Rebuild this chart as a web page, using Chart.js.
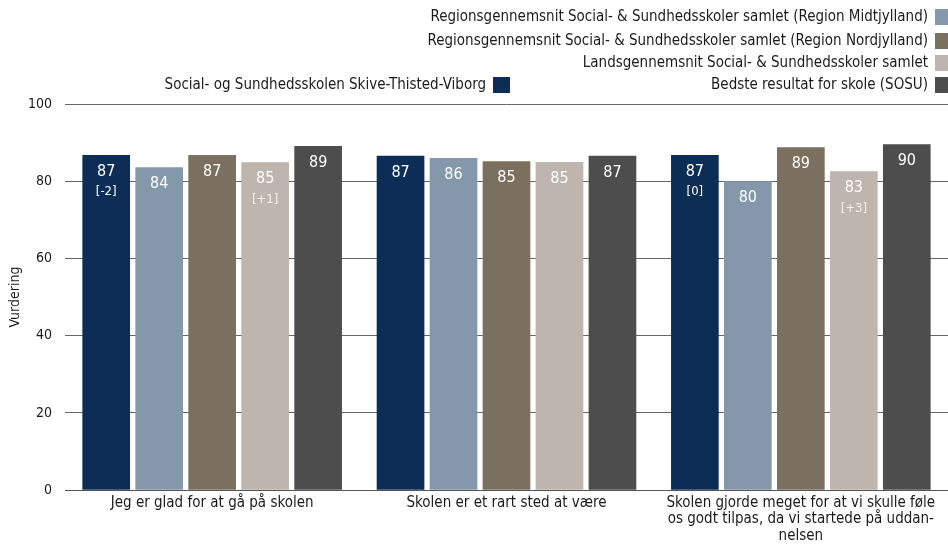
<!DOCTYPE html>
<html>
<head>
<meta charset="utf-8">
<script src="https://cdn.jsdelivr.net/npm/chart.js@4/dist/chart.umd.min.js"></script>
<style>
  html, body { margin: 0; padding: 0; background: #fff; }
  #wrap { width: 948px; height: 549px; }
</style>
</head>
<body>
<div id="wrap"><canvas id="myChart"></canvas></div>
<script>
var FONT = '"DejaVu Sans Condensed", "DejaVu Sans", sans-serif';

var categories = [
    'Jeg er glad for at gå på skolen',
    'Skolen er et rart sted at være',
    ['Skolen gjorde meget for at vi skulle føle', 'os godt tilpas, da vi startede på uddan-', 'nelsen']
];

var seriesNames = [
    'Social- og Sundhedsskolen Skive-Thisted-Viborg',
    'Regionsgennemsnit Social- & Sundhedsskoler samlet (Region Midtjylland)',
    'Regionsgennemsnit Social- & Sundhedsskoler samlet (Region Nordjylland)',
    'Landsgennemsnit Social- & Sundhedsskoler samlet',
    'Bedste resultat for skole (SOSU)'
];
var colors = ['#0c2d56', '#8497ab', '#7b6f5f', '#bdb5ae', '#4d4d4d'];

var skive = [86.8, 86.6, 86.8];
var midtjylland = [83.6, 86.0, 80.0];
var nordjylland = [86.8, 85.2, 88.8];
var lands = [84.9, 85.0, 82.6];
var bedste = [89.1, 86.6, 89.6];

// difference labels shown under the value
var skiveDiff = ['[-2]', '', '[0]'];
var landsDiff = ['[+1]', '', '[+3]'];

var seriesValues = [skive, midtjylland, nordjylland, lands, bedste];
var seriesDiffs = [skiveDiff, null, null, landsDiff, null];

var barLabels = {
    id: 'barLabels',
    afterDatasetsDraw: function(chart) {
        var ctx = chart.ctx;
        ctx.save();
        ctx.textAlign = 'center';
        ctx.textBaseline = 'middle';
        chart.data.datasets.forEach(function(ds, i) {
            var meta = chart.getDatasetMeta(i);
            meta.data.forEach(function(bar, j) {
                ctx.fillStyle = '#ffffff';
                ctx.font = '16px ' + FONT;
                ctx.fillText(Math.round(ds.data[j]), bar.x, bar.y + 17);
                var d = seriesDiffs[i];
                if (d && d[j]) {
                    ctx.font = '13px ' + FONT;
                    ctx.fillStyle = i === 3 ? '#f4f1ee' : '#ffffff';
                    ctx.fillText(d[j], bar.x, bar.y + 37);
                }
            });
        });
        ctx.restore();
    }
};

var customLegend = {
    id: 'customLegend',
    afterDraw: function(chart) {
        var ctx = chart.ctx;
        // [dataset index, text right edge, row y]
        var items = [[1, 928, 17], [2, 928, 41], [3, 928, 63], [0, 486, 85], [4, 928, 85]];
        ctx.save();
        ctx.font = '15px ' + FONT;
        ctx.textAlign = 'right';
        ctx.textBaseline = 'middle';
        items.forEach(function(it) {
            var ds = chart.data.datasets[it[0]];
            ctx.fillStyle = '#1a1a1a';
            ctx.fillText(ds.label, it[1], it[2]);
            ctx.fillStyle = ds.backgroundColor;
            ctx.fillRect(it[1] + 7, it[2] - 8, 17, 16);
        });
        // y axis title
        var a = chart.chartArea;
        ctx.translate(15, (a.top + a.bottom) / 2);
        ctx.rotate(-Math.PI / 2);
        ctx.textAlign = 'center';
        ctx.font = '14px ' + FONT;
        ctx.fillStyle = '#1a1a1a';
        ctx.fillText('Vurdering', 0, 0);
        ctx.restore();
    }
};

var ctx = document.getElementById('myChart').getContext('2d');
var myChart = new Chart(ctx, {
    type: 'bar',
    data: {
        labels: categories,
        datasets: seriesValues.map(function(vals, i) {
            return {
                label: seriesNames[i],
                data: vals,
                backgroundColor: colors[i],
                borderWidth: 0,
                barPercentage: 0.9,
                categoryPercentage: 0.9
            };
        })
    },
    options: {
        responsive: true,
        maintainAspectRatio: false,
        animation: false,
        layout: {
            padding: { top: 104, right: 0, left: 0, bottom: 0 }
        },
        plugins: {
            legend: { display: false },
            tooltip: { enabled: false }
        },
        scales: {
            x: {
                grid: { display: false, drawTicks: false },
                border: { color: '#555555' },
                ticks: {
                    color: '#1a1a1a',
                    padding: 4,
                    maxRotation: 0,
                    font: { family: FONT, size: 15, lineHeight: 1.13 }
                }
            },
            y: {
                min: 0,
                max: 100,
                afterFit: function(scale) { scale.width = 65; },
                ticks: {
                    stepSize: 20,
                    color: '#1a1a1a',
                    padding: 13,
                    font: { family: FONT, size: 14 }
                },
                grid: { color: '#666666', drawTicks: false },
                border: { display: false }
            }
        }
    },
    plugins: [barLabels, customLegend]
});
</script>
</body>
</html>
